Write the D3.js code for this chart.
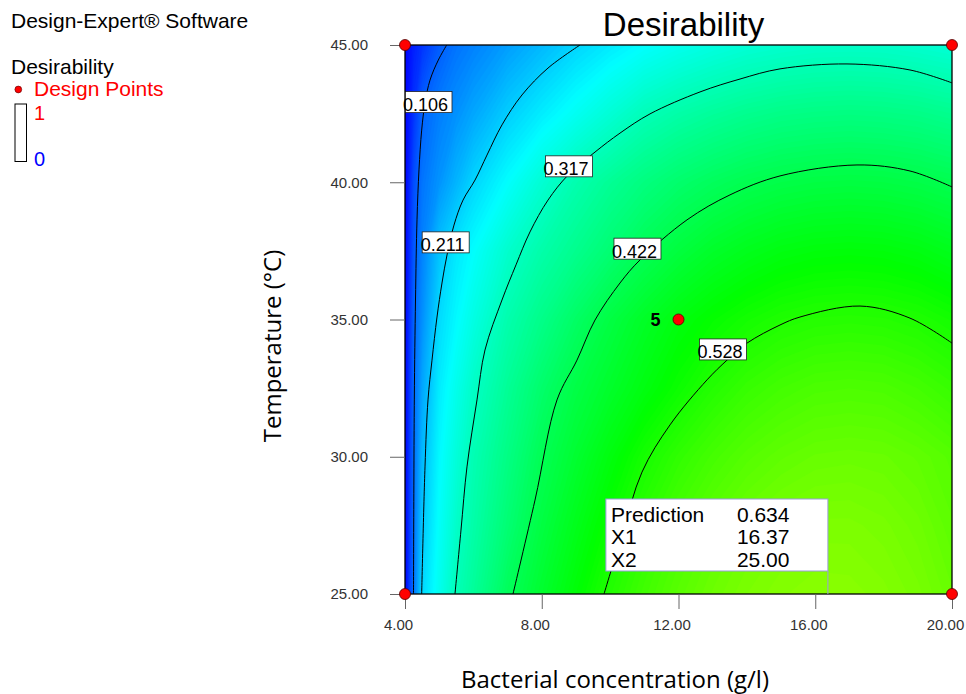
<!DOCTYPE html>
<html>
<head>
<meta charset="utf-8">
<script src="https://cdn.jsdelivr.net/npm/d3@7"></script>
<style>
  body { margin: 0; background: #fff; }
  svg { display: block; font-family: "Liberation Sans", Arial, sans-serif; }
</style>
</head>
<body>
<div id="chart"></div>
<script>
const width = 966;
const height = 694;
const margin = {top: 45, right: 14, bottom: 100, left: 405};

const xCols = [4, 4.25, 4.5, 5, 5.5, 6, 7, 8, 9, 10, 11, 12, 13, 14, 15, 16, 17, 18, 19, 20];
const yRows = [25, 27.5, 30, 32.5, 35, 37.5, 40, 42.5, 45];

// desirability, one array per temperature row
const d25  = [0, 0.112, 0.212, 0.266, 0.320, 0.350, 0.412, 0.455, 0.495, 0.534, 0.563, 0.587, 0.606, 0.620, 0.629, 0.634, 0.633, 0.627, 0.617, 0.601];
const d275 = [0, 0.109, 0.195, 0.255, 0.302, 0.335, 0.388, 0.436, 0.474, 0.511, 0.545, 0.571, 0.591, 0.607, 0.617, 0.622, 0.622, 0.617, 0.607, 0.591];
const d30  = [0, 0.106, 0.181, 0.245, 0.287, 0.324, 0.371, 0.418, 0.453, 0.487, 0.521, 0.547, 0.567, 0.583, 0.594, 0.601, 0.603, 0.601, 0.594, 0.583];
const d325 = [0, 0.103, 0.162, 0.232, 0.269, 0.305, 0.353, 0.396, 0.432, 0.458, 0.485, 0.511, 0.535, 0.553, 0.565, 0.573, 0.575, 0.573, 0.565, 0.553];
const d35  = [0, 0.097, 0.141, 0.215, 0.246, 0.277, 0.330, 0.366, 0.402, 0.435, 0.462, 0.486, 0.504, 0.519, 0.530, 0.536, 0.538, 0.536, 0.530, 0.519];
const d375 = [0, 0.085, 0.128, 0.192, 0.228, 0.251, 0.299, 0.334, 0.361, 0.389, 0.417, 0.440, 0.459, 0.473, 0.484, 0.490, 0.492, 0.490, 0.484, 0.473];
const d40  = [0, 0.075, 0.114, 0.145, 0.177, 0.209, 0.251, 0.293, 0.329, 0.354, 0.376, 0.395, 0.410, 0.422, 0.430, 0.435, 0.437, 0.435, 0.430, 0.422];
const d425 = [0, 0.050, 0.097, 0.124, 0.143, 0.163, 0.202, 0.233, 0.262, 0.291, 0.319, 0.336, 0.349, 0.360, 0.368, 0.372, 0.374, 0.372, 0.368, 0.360];
const d45  = [0, 0.030, 0.050, 0.090, 0.113, 0.127, 0.154, 0.181, 0.208, 0.230, 0.250, 0.266, 0.279, 0.290, 0.297, 0.302, 0.303, 0.302, 0.297, 0.290];

// contour lines, [concentration, temperature]
const levels = ["0.106", "0.211", "0.317", "0.422", "0.528"];
const line106 = [[5.220, 45], [4.974, 44.45], [4.731, 43.72], [4.585, 42.89], [4.488, 41.90], [4.409, 40.45], [4.351, 38.63], [4.307, 35.71], [4.272, 32.07], [4.249, 25]];
const line211 = [[9.119, 45], [8.183, 44.16], [7.422, 43.18], [6.837, 42.09], [6.398, 40.99], [6.048, 40.08], [5.697, 39.35], [5.433, 38.44], [5.229, 37.35], [5.082, 36.33], [4.936, 35.09], [4.790, 33.52], [4.673, 32.07], [4.585, 29.63], [4.488, 25]];
const line317 = [[5.462, 25], [5.638, 27.33], [5.813, 29.63], [6.106, 32.07], [6.340, 33.89], [6.837, 35.71], [7.247, 36.99], [7.656, 38.19], [8.183, 39.35], [8.768, 40.26], [9.558, 41.10], [10.289, 41.79], [11.166, 42.49], [12.629, 43.29], [13.799, 43.76], [14.969, 44.13], [16.929, 44.31], [18.771, 44.09], [20, 43.62]];
const line422 = [[7.159, 25], [7.803, 28.42], [8.446, 32.07], [9.031, 33.52], [9.558, 34.98], [10.289, 36.33], [10.874, 37.17], [12.249, 38.63], [13.506, 39.54], [14.969, 40.23], [17.221, 40.63], [18.771, 40.41], [20, 39.83]];
const line528 = [[9.821, 25], [10.347, 27.15], [10.932, 29.44], [11.751, 31.16], [12.834, 32.80], [13.419, 33.52], [14.004, 34.14], [14.969, 34.80], [15.554, 35.09], [17.309, 35.49], [18.771, 35.05], [20, 34.14]];
const labelX = [4.687, 5.190, 8.797, 10.80, 13.30];
const labelY = [42.92, 37.81, 40.58, 37.58, 33.91];

// design points
const designX = [4, 4, 20, 20, 12];
const designY = [25, 45, 25, 45, 35];
const designReps = ["", "", "", "", "5"];

// prediction flag
const predNames = ["Prediction", "X1", "X2"];
const predValues = ["0.634", "16.37", "25.00"];
const predX = 16.37;
const predY = 25;

const xTicks = [4, 8, 12, 16, 20];
const yTicks = [25, 30, 35, 40, 45];

const x = d3.scaleLinear().domain([4, 20]).range([margin.left, width - margin.right]);
const y = d3.scaleLinear().domain([25, 45]).range([height - margin.bottom, margin.top]);
const color = d3.scaleLinear()
  .domain([0, 0.25, 0.5, 0.75, 1])
  .range(["#0000ff", "#00ffff", "#00ff00", "#ffff00", "#ff0000"]);

const svg = d3.select("#chart").append("svg")
  .attr("width", width).attr("height", height);

svg.append("clipPath").attr("id", "plot-clip")
  .append("rect")
  .attr("x", x(4)).attr("y", y(45))
  .attr("width", x(20) - x(4)).attr("height", y(25) - y(45));

const plot = svg.append("g").attr("clip-path", "url(#plot-clip)");

// filled surface
const nx = xCols.length, ny = yRows.length;
const values = [d25, d275, d30, d325, d35, d375, d40, d425, d45].flat();
const colX = d3.scaleLinear().domain(d3.range(nx)).range(xCols).clamp(true);
const rowY = d3.scaleLinear().domain(d3.range(ny)).range(yRows).clamp(true);
const toScreen = d3.geoTransform({
  point(px, py) { this.stream.point(x(colX(px - 0.5)), y(rowY(py - 0.5))); }
});
const bands = d3.contours().size([nx, ny])
  .thresholds(d3.range(0.005, 0.66, 0.005))(values);

plot.append("rect")
  .attr("x", x(4)).attr("y", y(45))
  .attr("width", x(20) - x(4)).attr("height", y(25) - y(45))
  .attr("fill", color(0));

plot.selectAll("path.band").data(bands).enter()
  .append("path").attr("class", "band")
  .attr("d", d3.geoPath(toScreen))
  .attr("fill", (d) => color(d.value + 0.0025));

// contour lines
const contourLine = d3.line()
  .x((d) => x(d[0])).y((d) => y(d[1]))
  .curve(d3.curveCatmullRom);

plot.selectAll("path.contour").data([line106, line211, line317, line422, line528]).enter()
  .append("path").attr("class", "contour")
  .attr("d", contourLine)
  .attr("fill", "none").attr("stroke", "#000").attr("stroke-width", 1);

// contour labels
plot.selectAll("rect.lab").data(levels).enter()
  .append("rect").attr("class", "lab")
  .attr("x", (d, i) => x(labelX[i]) - 23.5)
  .attr("y", (d, i) => y(labelY[i]) - 10.5)
  .attr("width", 47).attr("height", 21)
  .attr("fill", "#fff").attr("stroke", "#222").attr("stroke-width", 0.8);

svg.selectAll("text.lab").data(levels).enter()
  .append("text").attr("class", "lab")
  .attr("x", (d, i) => x(labelX[i]) - 3)
  .attr("y", (d, i) => y(labelY[i]) + 9)
  .attr("text-anchor", "middle")
  .attr("font-size", 18)
  .text((d) => d);

// frame
svg.append("rect")
  .attr("x", x(4)).attr("y", y(45))
  .attr("width", x(20) - x(4)).attr("height", y(25) - y(45))
  .attr("fill", "none").attr("stroke", "#000").attr("stroke-width", 1.3);

// axes
const fmt = d3.format(".2f");
const xAxis = svg.append("g")
  .attr("transform", `translate(0,${y(25)})`)
  .call(d3.axisBottom(x).tickValues(xTicks).tickFormat(fmt).tickSize(15).tickPadding(10));
const yAxis = svg.append("g")
  .attr("transform", `translate(${x(4)},0)`)
  .call(d3.axisLeft(y).tickValues(yTicks).tickFormat(fmt).tickSize(15).tickPadding(22));
[xAxis, yAxis].forEach((g) => {
  g.select(".domain").remove();
  g.selectAll(".tick line").attr("stroke", "#666");
  g.selectAll(".tick text")
    .attr("fill", "#333")
    .attr("font-size", 15)
    .attr("font-family", "'Liberation Sans', Arial, sans-serif");
});
xAxis.selectAll(".tick text").attr("dx", -7);

// prediction flag
const boxW = 222, boxH = 72;
const boxRight = x(predX), boxBottom = y(predY) - 23;
const flag = svg.append("g").attr("transform", `translate(${boxRight - boxW},${boxBottom - boxH})`);
svg.append("line")
  .attr("x1", boxRight).attr("x2", boxRight)
  .attr("y1", boxBottom).attr("y2", y(predY))
  .attr("stroke", "#9b9bdc").attr("stroke-width", 1);
flag.append("rect")
  .attr("width", boxW).attr("height", boxH)
  .attr("fill", "#fff").attr("stroke", "#9b9bdc").attr("stroke-width", 1);
flag.selectAll("text.name").data(predNames).enter()
  .append("text").attr("class", "name")
  .attr("x", 5).attr("y", (d, i) => 22.5 + i * 22.8)
  .attr("font-size", 21).text((d) => d);
flag.selectAll("text.val").data(predValues).enter()
  .append("text").attr("class", "val")
  .attr("x", 131).attr("y", (d, i) => 22.5 + i * 22.8)
  .attr("font-size", 21).text((d) => d);

// design points
svg.selectAll("circle.design").data(designX).enter()
  .append("circle").attr("class", "design")
  .attr("cx", (d) => x(d))
  .attr("cy", (d, i) => y(designY[i]))
  .attr("r", 5.5)
  .attr("fill", "#ff0000").attr("stroke", "#500").attr("stroke-width", 0.8);
svg.selectAll("text.reps").data(designReps).enter()
  .append("text").attr("class", "reps")
  .attr("x", (d, i) => x(designX[i]) - 18)
  .attr("y", (d, i) => y(designY[i]) + 6.5)
  .attr("text-anchor", "end")
  .attr("font-size", 18).attr("font-weight", "bold")
  .text((d) => d);

// titles
svg.append("text")
  .attr("x", (x(4) + x(20)) / 2 + 5).attr("y", 36)
  .attr("text-anchor", "middle").attr("font-size", 33)
  .text("Desirability");
svg.append("text")
  .attr("x", 615).attr("y", 688)
  .attr("text-anchor", "middle").attr("font-size", 24)
  .attr("font-family", "'Open Sans', sans-serif")
  .text("Bacterial concentration (g/l)");
svg.append("text")
  .attr("transform", "translate(281,346) rotate(-90)")
  .attr("text-anchor", "middle").attr("font-size", 24)
  .attr("font-family", "'Open Sans', sans-serif")
  .text("Temperature (°C)");

// legend
const legend = svg.append("g");
legend.append("text").attr("x", 11).attr("y", 27.5).attr("font-size", 21).text("Design-Expert® Software");
legend.append("text").attr("x", 11).attr("y", 74).attr("font-size", 21).text("Desirability");
legend.append("circle").attr("cx", 18.3).attr("cy", 89.5).attr("r", 3.4)
  .attr("fill", "#ff0000").attr("stroke", "#500").attr("stroke-width", 0.6);
legend.append("text").attr("x", 34).attr("y", 96).attr("font-size", 21)
  .attr("fill", "#ff0000").text("Design Points");
legend.append("rect").attr("x", 15).attr("y", 104).attr("width", 11.5).attr("height", 57.5)
  .attr("fill", "#fff").attr("stroke", "#000").attr("stroke-width", 1);
legend.append("text").attr("x", 34).attr("y", 119.5).attr("font-size", 20)
  .attr("fill", "#ff0000").text("1");
legend.append("text").attr("x", 34).attr("y", 165.5).attr("font-size", 20)
  .attr("fill", "#0000ff").text("0");
</script>
</body>
</html>
